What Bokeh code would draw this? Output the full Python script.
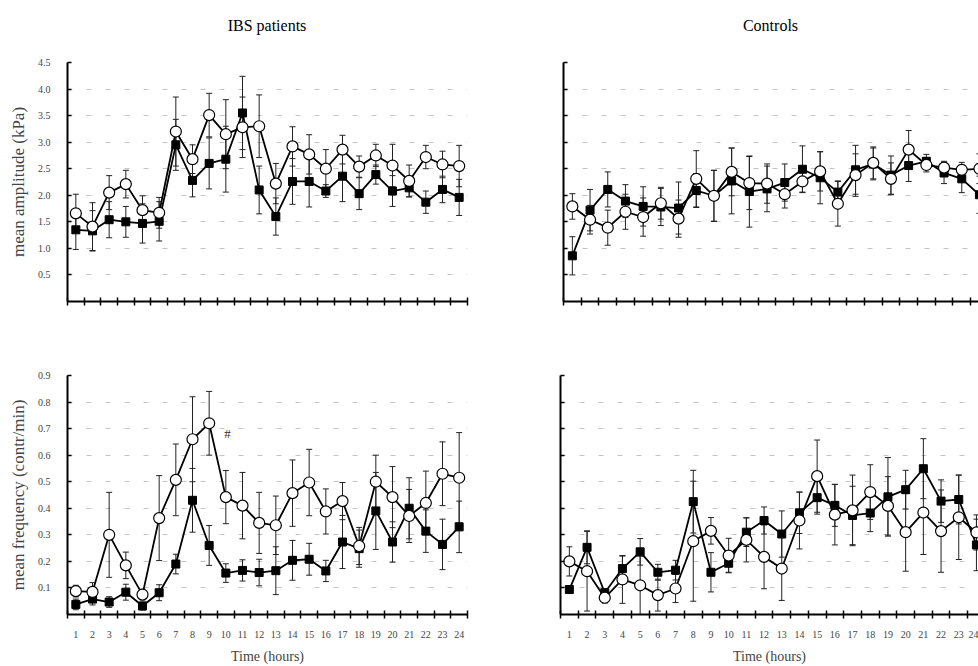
from bokeh.plotting import figure
from bokeh.layouts import column, row
from bokeh.models import (FixedTicker, Whisker, ColumnDataSource, Label, Range1d, Div,
                          TeeHead, PrintfTickFormatter, CustomJSTickFormatter)
from bokeh.embed import file_html
from bokeh.resources import INLINE

hours = list(range(1, 25))
half_ticks = [h + 0.5 for h in range(0, 25)]
amp_ticks = [0.5, 1.0, 1.5, 2.0, 2.5, 3.0, 3.5, 4.0, 4.5]
freq_ticks = [0.1, 0.2, 0.3, 0.4, 0.5, 0.6, 0.7, 0.8, 0.9]
titles = ["IBS patients", "Controls"]

# IBS patients, mean amplitude (kPa)
amp_ibs_open = [1.66, 1.41, 2.05, 2.21, 1.72, 1.67, 3.20, 2.68, 3.51, 3.15, 3.28, 3.30,
                2.22, 2.92, 2.77, 2.50, 2.86, 2.54, 2.75, 2.56, 2.27, 2.72, 2.58, 2.55]
amp_ibs_open_se = [0.36, 0.45, 0.32, 0.26, 0.27, 0.29, 0.65, 0.27, 0.41, 0.65, 0.57, 0.59,
                   0.38, 0.37, 0.37, 0.36, 0.27, 0.20, 0.21, 0.40, 0.30, 0.22, 0.25, 0.39]
amp_ibs_fill = [1.35, 1.33, 1.54, 1.50, 1.47, 1.51, 2.95, 2.28, 2.60, 2.68, 3.55, 2.10,
                1.60, 2.26, 2.26, 2.08, 2.36, 2.03, 2.39, 2.08, 2.14, 1.87, 2.11, 1.96]
amp_ibs_fill_se = [0.37, 0.38, 0.34, 0.29, 0.37, 0.37, 0.48, 0.31, 0.48, 0.62, 0.69, 0.45,
                   0.35, 0.43, 0.48, 0.12, 0.48, 0.30, 0.18, 0.29, 0.17, 0.21, 0.25, 0.34]

# Controls, mean amplitude (kPa)
amp_ctl_open = [1.79, 1.54, 1.39, 1.69, 1.59, 1.85, 1.56, 2.31, 1.99, 2.44, 2.23, 2.22,
                2.02, 2.26, 2.45, 1.84, 2.38, 2.61, 2.31, 2.86, 2.57, 2.52, 2.48, 2.50]
amp_ctl_open_se = [0.24, 0.27, 0.33, 0.33, 0.36, 0.30, 0.35, 0.53, 0.48, 0.45, 0.50, 0.37,
                   0.26, 0.20, 0.37, 0.42, 0.40, 0.30, 0.30, 0.36, 0.13, 0.12, 0.14, 0.28]
amp_ctl_fill = [0.86, 1.72, 2.11, 1.89, 1.79, 1.78, 1.76, 2.09, 1.99, 2.27, 2.07, 2.12,
                2.24, 2.49, 2.33, 2.06, 2.48, 2.59, 2.38, 2.56, 2.64, 2.42, 2.31, 2.01]
amp_ctl_fill_se = [0.36, 0.39, 0.33, 0.31, 0.37, 0.35, 0.49, 0.32, 0.48, 0.62, 0.67, 0.43,
                   0.35, 0.44, 0.49, 0.21, 0.46, 0.30, 0.36, 0.30, 0.13, 0.20, 0.26, 0.35]

# IBS patients, mean frequency (contr/min)
freq_ibs_open = [0.088, 0.085, 0.30, 0.185, 0.075, 0.363, 0.507, 0.66, 0.72, 0.442, 0.41, 0.345,
                 0.336, 0.457, 0.497, 0.388, 0.427, 0.258, 0.50, 0.442, 0.371, 0.42, 0.53, 0.515]
freq_ibs_open_se = [0.022, 0.035, 0.16, 0.05, 0.02, 0.16, 0.135, 0.16, 0.12, 0.10, 0.125, 0.115,
                    0.11, 0.125, 0.125, 0.085, 0.07, 0.07, 0.10, 0.115, 0.10, 0.12, 0.12, 0.17]
freq_ibs_fill = [0.038, 0.058, 0.047, 0.084, 0.032, 0.082, 0.19, 0.43, 0.26, 0.156, 0.166, 0.158,
                 0.165, 0.204, 0.208, 0.164, 0.273, 0.248, 0.39, 0.273, 0.40, 0.314, 0.264, 0.33]
freq_ibs_fill_se = [0.02, 0.022, 0.02, 0.03, 0.015, 0.03, 0.037, 0.12, 0.075, 0.035, 0.04, 0.05,
                    0.09, 0.075, 0.06, 0.04, 0.10, 0.07, 0.145, 0.076, 0.115, 0.08, 0.095, 0.097]

# Controls, mean frequency (contr/min)
freq_ctl_open = [0.20, 0.163, 0.063, 0.132, 0.11, 0.073, 0.098, 0.276, 0.315, 0.222, 0.281, 0.217,
                 0.173, 0.354, 0.521, 0.376, 0.392, 0.461, 0.409, 0.31, 0.384, 0.314, 0.366, 0.309]
freq_ctl_open_se = [0.055, 0.15, 0.02, 0.09, 0.11, 0.06, 0.053, 0.226, 0.05, 0.065, 0.083, 0.12,
                    0.12, 0.107, 0.136, 0.114, 0.133, 0.103, 0.11, 0.147, 0.158, 0.155, 0.159, 0.066]
freq_ctl_fill = [0.094, 0.253, 0.082, 0.173, 0.236, 0.159, 0.167, 0.425, 0.159, 0.193, 0.31, 0.354,
                 0.303, 0.383, 0.44, 0.411, 0.373, 0.382, 0.443, 0.47, 0.549, 0.427, 0.433, 0.262]
freq_ctl_fill_se = [0.01, 0.062, 0.015, 0.047, 0.05, 0.03, 0.037, 0.118, 0.074, 0.034, 0.054, 0.051,
                    0.087, 0.078, 0.062, 0.079, 0.11, 0.07, 0.148, 0.073, 0.113, 0.08, 0.092, 0.097]

FONT = "Liberation Serif"


def make_panel(width, height, left, right, top, bottom, x_end, y_end, y_ticks,
               open_vals, open_se, fill_vals, fill_se,
               ylab=None, xlab=None, show_ylabels=True, show_xlabels=False):
    p = figure(width=width, height=height, x_range=Range1d(0.5, x_end),
               y_range=Range1d(0, y_end), output_backend="svg", toolbar_location=None,
               min_border_left=left, min_border_right=right,
               min_border_top=top, min_border_bottom=bottom)
    p.outline_line_color = None
    p.xgrid.visible = False
    p.ygrid.ticker = FixedTicker(ticks=y_ticks)
    p.ygrid.grid_line_color = "#c4c4c4"
    p.ygrid.grid_line_dash = "5 14"
    p.ygrid.grid_line_width = 1

    # y axis
    ya = p.yaxis[0]
    ya.ticker = FixedTicker(ticks=y_ticks)
    ya.formatter = PrintfTickFormatter(format="%.1f")
    ya.axis_line_width = 2
    ya.major_tick_in = 4
    ya.major_tick_out = 0
    ya.major_tick_line_width = 1.5
    ya.minor_tick_line_color = None
    ya.major_label_text_font = FONT
    ya.major_label_text_font_size = "10px"
    ya.major_label_standoff = 17
    if not show_ylabels:
        ya.formatter = CustomJSTickFormatter(code="return ''")
    if ylab:
        ya.axis_label = ylab
        ya.axis_label_text_font = FONT
        ya.axis_label_text_font_style = "normal"
        ya.axis_label_text_font_size = "17px"
        ya.axis_label_standoff = 7

    # x axis
    xa = p.xaxis[0]
    xa.ticker = FixedTicker(ticks=hours, minor_ticks=half_ticks)
    xa.axis_line_width = 2
    xa.major_tick_line_color = None
    xa.major_tick_in = 0
    xa.major_tick_out = 0
    xa.minor_tick_in = 4
    xa.minor_tick_out = 4
    xa.minor_tick_line_width = 1.5
    xa.minor_tick_line_color = "black"
    xa.major_label_text_font = FONT
    xa.major_label_text_font_size = "10px"
    xa.major_label_standoff = 12
    if not show_xlabels:
        xa.formatter = CustomJSTickFormatter(code="return ''")
    if xlab:
        xa.axis_label = xlab
        xa.axis_label_text_font = FONT
        xa.axis_label_text_font_style = "normal"
        xa.axis_label_text_font_size = "14px"
        xa.axis_label_standoff = 8

    so = ColumnDataSource(dict(x=hours, y=open_vals,
                               lo=[v - e for v, e in zip(open_vals, open_se)],
                               hi=[v + e for v, e in zip(open_vals, open_se)]))
    sf = ColumnDataSource(dict(x=hours, y=fill_vals,
                               lo=[v - e for v, e in zip(fill_vals, fill_se)],
                               hi=[v + e for v, e in zip(fill_vals, fill_se)]))
    for src in (sf, so):
        w = Whisker(base="x", lower="lo", upper="hi", source=src,
                    line_color="#222222", line_width=1,
                    upper_head=TeeHead(size=6, line_color="#222222", line_width=1),
                    lower_head=TeeHead(size=6, line_color="#222222", line_width=1))
        p.add_layout(w)
    p.line("x", "y", source=sf, line_color="black", line_width=1.8)
    p.line("x", "y", source=so, line_color="black", line_width=1.8)
    p.scatter("x", "y", source=sf, marker="square", size=8, fill_color="black",
              line_color="black")
    p.scatter("x", "y", source=so, marker="circle", size=11, fill_color="white",
              line_color="black", line_width=1.2)
    return p


def title_div(text, width, frame_left, frame_width):
    html = (f'<div style="width:{frame_width}px;margin-left:{frame_left}px;'
            f'text-align:center;padding-top:18px;font-family:\'Liberation Serif\';'
            f'font-size:16px;line-height:16px;color:black;">{text}</div>')
    return Div(text=html, width=width, height=40, margin=(0, 0, 0, 0))


d1 = title_div(titles[0], 490, 67, 400)
d2 = title_div(titles[1], 488, 73, 415)

p1 = make_panel(490, 300, 67, 23, 22, 39, 24.5, 4.5, amp_ticks,
                amp_ibs_open, amp_ibs_open_se, amp_ibs_fill, amp_ibs_fill_se,
                ylab="mean amplitude (kPa)")
p2 = make_panel(488, 300, 73, 0, 22, 39, 0.5 + 415 / 17.7, 4.5, amp_ticks,
                amp_ctl_open, amp_ctl_open_se, amp_ctl_fill, amp_ctl_fill_se,
                show_ylabels=False)
p3 = make_panel(490, 326, 67, 23, 35, 52, 24.5, 0.9, freq_ticks,
                freq_ibs_open, freq_ibs_open_se, freq_ibs_fill, freq_ibs_fill_se,
                ylab="mean frequency (contr/min)", xlab="Time (hours)", show_xlabels=True)
p4 = make_panel(488, 326, 70, 0, 31, 49, 0.5 + 418 / 17.7, 0.9, freq_ticks,
                freq_ctl_open, freq_ctl_open_se, freq_ctl_fill, freq_ctl_fill_se,
                xlab="Time (hours)", show_ylabels=False, show_xlabels=True)

p3.add_layout(Label(x=10.1, y=0.655, text="#", text_font=FONT, text_font_size="13px",
                    text_color="#333333", text_align="center"))

layout = column(row(d1, d2), row(p1, p2), row(p3, p4))
open("out.html", "w").write(file_html(layout, INLINE))
